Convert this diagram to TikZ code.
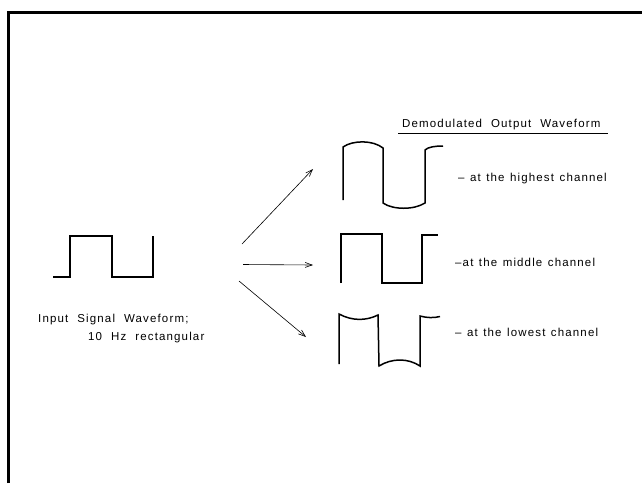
\documentclass[tikz,border=0pt]{standalone}
\usepackage{fontspec}
\setmainfont{Liberation Sans}
\newfontfamily\lettering[LetterSpace=10]{Liberation Sans}
\usetikzlibrary{arrows.meta}
\newcommand{\lblfont}{\lettering\fontsize{11.5}{13}\selectfont\spaceskip=5.5pt\relax}
\newcommand{\widelblfont}{\lettering\fontsize{11.5}{13}\selectfont\spaceskip=9pt\relax}
\tikzset{
  frame/.style={line width=3pt, line cap=butt, line join=miter},
  wave/.style={line width=1.5pt, line join=miter},
  lbl/.style={font=\lblfont, inner sep=0pt, anchor=west},
  widelbl/.style={lbl, font=\widelblfont},
  fan/.style={-{Straight Barb[length=7pt,width=5pt]}, line width=0.6pt},
}

\begin{document}
\begin{tikzpicture}[x=1pt,y=-1pt]
  \useasboundingbox (0,0) rectangle (642,483);
  % outer frame, only the left and top edges show
  \draw[frame] (8,483) -- (8,12.5) -- (642,12.5);
  % input rectangle wave
  \draw[wave] (53,277) -- (70,277) -- (70,236) -- (112,236) -- (112,277)
    -- (153,277) -- (153,236);
  \node[widelbl] (inlab) at (38,320) {Input Signal Waveform;};
  \node[widelbl] (inlab2) at (88,338) {10 Hz rectangular};
  % fan of arrows
  \coordinate (fanhi) at (242,244);
  \coordinate (fanmid) at (243,264.5);
  \coordinate (fanlo) at (239,281);
  \coordinate (tiphi) at (313,169);
  \coordinate (tipmid) at (313,265);
  \coordinate (tiplo) at (306,337);
  \draw[fan] (fanhi) -- (tiphi);
  \draw[fan] (fanmid) -- (tipmid);
  \draw[fan] (fanlo) -- (tiplo);
  % heading
  \node[widelbl] (outlab) at (402,125) {Demodulated Output Waveform};
  \draw[line width=0.8pt] (398,133) -- (608,133);
  % highest channel
  \draw[wave] (343,200) -- (343,147) .. controls (353,140) and (373,140) .. (383,148)
    -- (383,203) .. controls (393,210) and (414,210) .. (425,203)
    -- (425,150) .. controls (428,147) and (435,146) .. (443,146);
  \node[lbl] (hilab) at (458,179) {– at the highest channel};
  % middle channel
  \draw[wave] (341,283) -- (341,234) -- (382,234) -- (382,283) -- (422,283)
    -- (422,235) -- (438,235);
  \node[lbl] (midlab) at (455,262) {–at the middle channel};
  % lowest channel
  \draw[wave] (339,364) -- (339,314) .. controls (352,321) and (366,321) .. (378,315)
    -- (379,366) .. controls (392,358) and (408,358) .. (420,366)
    -- (420,316) .. controls (427,318) and (434,318) .. (440,316.5);
  \node[lbl] (lolab) at (455,332) {– at the lowest channel};
\end{tikzpicture}
\end{document}
